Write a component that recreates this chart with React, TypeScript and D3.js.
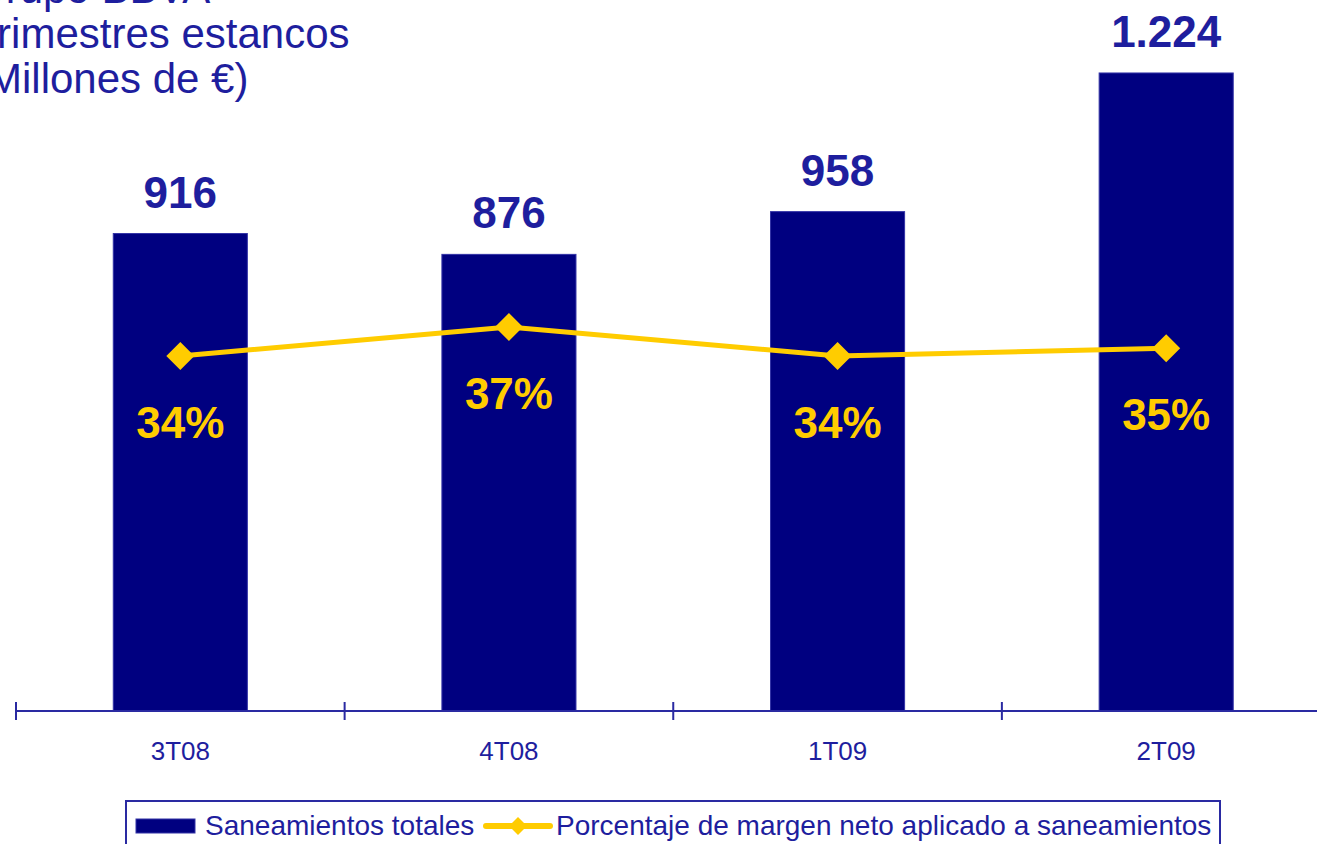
import React from "react";
import * as d3 from "d3";

const categories = ["3T08", "4T08", "1T09", "2T09"];
const saneamientos = [916, 876, 958, 1224];
const saneamientosLabels = ["916", "876", "958", "1.224"];
const porcentaje = [34, 37, 34, 34.8];
const porcentajeLabels = ["34%", "37%", "34%", "35%"];
const titleLines = ["Grupo BBVA", "Trimestres estancos", "(Millones de €)"];
const legendLabels = ["Saneamientos totales", "Porcentaje de margen neto aplicado a saneamientos"];

const W = 1317;
const H = 844;
const FONT = "'Liberation Sans', Arial, Helvetica, sans-serif";
const NAVY = "#000080";
const BLUE = "#1e1e9e";
const YELLOW = "#ffcc00";

export default function App() {
  const baseY = 711;
  const x = d3.scaleBand<string>().domain(categories).range([16, 1330.5]).padding(0);
  const y = d3.scaleLinear().domain([0, 1364]).range([baseY, 0]);
  const yp = d3.scaleLinear().domain([34, 37]).range([356, 327]);
  const barW = x.bandwidth() * 0.408;
  const cx = (c: string) => (x(c) as number) + x.bandwidth() / 2;

  const line = d3
    .line<number>()
    .x((_, i) => cx(categories[i]))
    .y((d) => yp(d));

  const ticks = [...categories.map((c) => x(c) as number), x.range()[1]];

  const diamond = (px: number, py: number, r: number) =>
    `M${px},${py - r}L${px + r},${py}L${px},${py + r}L${px - r},${py}Z`;

  return (
    <svg
      width={W}
      height={H}
      style={{ position: "absolute", left: 0, top: 0, background: "#fff" }}
      fontFamily={FONT}
    >
      {/* title */}
      {titleLines.map((t, i) => (
        <text key={t} x={-27} y={3 + i * 45} fontSize={42} fill={BLUE}>
          {t}
        </text>
      ))}

      {/* bars */}
      {categories.map((c, i) => (
        <rect
          key={c}
          x={cx(c) - barW / 2}
          y={y(saneamientos[i])}
          width={barW}
          height={baseY - y(saneamientos[i])}
          fill={NAVY}
          stroke="#3333a6"
          strokeWidth={1}
        />
      ))}

      {/* bar value labels */}
      {categories.map((c, i) => (
        <text
          key={c + "v"}
          x={cx(c)}
          y={y(saneamientos[i]) - 26}
          textAnchor="middle"
          fontSize={44}
          fontWeight="bold"
          fill={BLUE}
        >
          {saneamientosLabels[i]}
        </text>
      ))}

      {/* axis */}
      <line x1={16} x2={W} y1={baseY} y2={baseY} stroke="#2a2aa2" strokeWidth={2} />
      {ticks.map((t, i) => (
        <line key={i} x1={t} x2={t} y1={baseY - 9} y2={baseY + 9} stroke="#2a2aa2" strokeWidth={2} />
      ))}
      {categories.map((c) => (
        <text key={c + "a"} x={cx(c)} y={760} textAnchor="middle" fontSize={26} fill={BLUE}>
          {c}
        </text>
      ))}

      {/* line series */}
      <path d={line(porcentaje) || ""} fill="none" stroke={YELLOW} strokeWidth={5} />
      {porcentaje.map((p, i) => (
        <path key={i} d={diamond(cx(categories[i]), yp(p), 14)} fill={YELLOW} />
      ))}
      {porcentaje.map((p, i) => (
        <text
          key={i + "p"}
          x={cx(categories[i])}
          y={yp(p) + 82}
          textAnchor="middle"
          fontSize={44}
          fontWeight="bold"
          fill={YELLOW}
        >
          {porcentajeLabels[i]}
        </text>
      ))}

      {/* legend */}
      <rect x={126} y={801} width={1094} height={60} fill="#fff" stroke="#2a2aa2" strokeWidth={2} />
      <rect x={136} y={819} width={59} height={14} fill={NAVY} stroke="#3333a6" strokeWidth={1} />
      <text x={205} y={835} fontSize={28} fill={BLUE}>
        {legendLabels[0]}
      </text>
      <line x1={486} x2={550} y1={826} y2={826} stroke={YELLOW} strokeWidth={6} strokeLinecap="round" />
      <path d={diamond(518, 826, 9)} fill={YELLOW} />
      <text x={556} y={835} fontSize={28} fill={BLUE}>
        {legendLabels[1]}
      </text>
    </svg>
  );
}
